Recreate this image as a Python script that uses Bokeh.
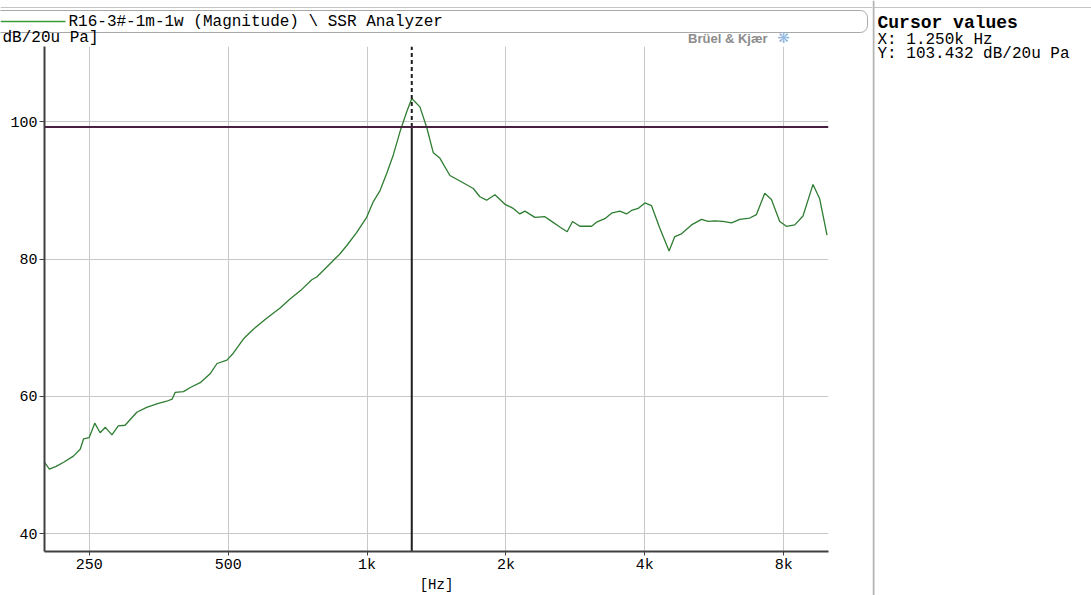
from bokeh.plotting import figure
from bokeh.models import Range1d, FixedTicker, Span, Label, ColumnDataSource
from bokeh.layouts import row, column
from bokeh.embed import file_html
from bokeh.resources import INLINE

# ---------------- data ----------------
freq_hz = [200, 205, 212, 220, 231, 239, 243, 250, 257, 264, 271, 280, 289, 299,
           317, 333, 353, 368, 378, 384, 400, 414, 435, 457, 473, 497, 513, 540,
           567, 606, 648, 681, 722, 759, 778, 811, 845, 874, 904, 950, 998, 1032,
           1067, 1103, 1140, 1179, 1219, 1250, 1302, 1347, 1392, 1439, 1512, 1590,
           1699, 1756, 1816, 1893, 1990, 2074, 2144, 2198, 2311, 2429, 2490, 2617,
           2714, 2788, 2892, 3066, 3143, 3276, 3387, 3530, 3650, 3742, 3868, 3999,
           4135, 4310, 4514, 4644, 4802, 5048, 5306, 5484, 5670, 5910, 6162, 6422,
           6751, 6980, 7275, 7522, 7840, 8106, 8449, 8806, 9256, 9570, 9926]
level_db = [50.4, 49.4, 49.8, 50.4, 51.3, 52.3, 53.8, 54.0, 56.1, 54.7, 55.5, 54.4,
            55.7, 55.8, 57.7, 58.4, 59.0, 59.3, 59.6, 60.6, 60.7, 61.3, 62.0, 63.3,
            64.8, 65.3, 66.3, 68.4, 69.8, 71.4, 72.9, 74.2, 75.6, 77.0, 77.4, 78.6,
            79.8, 80.8, 82.0, 83.9, 86.1, 88.4, 90.0, 92.5, 95.2, 98.6, 101.5, 103.43,
            102.2, 99.2, 95.5, 94.7, 92.2, 91.4, 90.3, 89.1, 88.6, 89.4, 88.0, 87.4,
            86.6, 87.0, 86.1, 86.2, 85.7, 84.7, 84.0, 85.5, 84.8, 84.8, 85.4, 85.9,
            86.7, 87.0, 86.6, 87.1, 87.4, 88.2, 87.8, 84.5, 81.2, 83.3, 83.7, 85.0,
            85.8, 85.5, 85.6, 85.5, 85.3, 85.8, 86.0, 86.5, 89.6, 88.7, 85.5, 84.8,
            85.0, 86.3, 90.9, 88.8, 83.5]
assert len(freq_hz) == len(level_db)

x_ticks = [250, 500, 1000, 2000, 4000, 8000]
x_tick_labels = ["250", "500", "1k", "2k", "4k", "8k"]
y_ticks = [40, 60, 80, 100]

series_name = "R16-3#-1m-1w (Magnitude) \\ SSR Analyzer"
y_unit_label = "dB/20u Pa]"
x_unit_label = "[Hz]"
cursor_freq = 1250.0
cursor_level = 103.432
ref_level = 99.27

x_lo, x_hi = 200, 10000
y_lo, y_hi = 37.4, 111.0

# ---------------- layout constants (page pixels) ----------------
PAGE_W, PAGE_H = 1091, 595
LEFT_W = 872               # header + chart column width
HEAD_H = 46                # header strip height
CHART_H = PAGE_H - HEAD_H
RIGHT_W = PAGE_W - LEFT_W
B_LEFT, B_RIGHT, B_BOTTOM = 44, 44, 44

MONO = "Liberation Mono"
CURVE = "#2e7d32"
AXIS = "#404040"
GRID = "#c8c8c8"
FRAME_LINE = "#c4c4c4"


def no_align(fig):
    try:
        fig.frame_align = False
    except Exception:
        pass


# ---------------- header strip ----------------
h = figure(width=LEFT_W, height=HEAD_H, x_range=Range1d(0, LEFT_W),
           y_range=Range1d(HEAD_H, 0), x_axis_type=None, y_axis_type=None,
           output_backend="svg", toolbar_location=None, min_border=0)
h.outline_line_color = None
h.grid.visible = False
no_align(h)
h.segment(x0=[0], y0=[7], x1=[LEFT_W], y1=[7], line_color=FRAME_LINE, line_width=1)
box = dict(left=[-12], right=[867], top=[10], bottom=[32],
           fill_color="white", line_color="#a8a8a8", line_width=1)
try:
    h.quad(border_radius=7, **box)
except Exception:
    h.quad(**box)
h.segment(x0=[0], y0=[21], x1=[65], y1=[21], line_color="#3a9a3a", line_width=1.5)
h.add_layout(Label(x=68, y=21, text=series_name, text_font=MONO,
                   text_font_size="16px", text_color="black",
                   text_baseline="middle"))
h.add_layout(Label(x=2, y=37, text=y_unit_label, text_font=MONO,
                   text_font_size="16px", text_color="black",
                   text_baseline="middle"))
h.add_layout(Label(x=767, y=37.5, text="Brüel & Kjær", text_font="Liberation Sans",
                   text_font_size="13px", text_font_style="bold",
                   text_color="#8c8c8c", text_baseline="middle", text_align="right"))
h.add_layout(Label(x=783, y=37.5, text="❋", text_font="DejaVu Sans",
                   text_font_size="15px", text_color="#8fb6e0",
                   text_baseline="middle", text_align="center"))

# ---------------- chart ----------------
p = figure(width=LEFT_W, height=CHART_H, x_axis_type="log",
           x_range=Range1d(x_lo, x_hi), y_range=Range1d(y_lo, y_hi),
           output_backend="svg", toolbar_location=None,
           min_border_left=B_LEFT, min_border_right=B_RIGHT,
           min_border_top=0, min_border_bottom=B_BOTTOM)
p.outline_line_color = None
p.background_fill_color = "white"
p.border_fill_color = "white"
no_align(p)

src = ColumnDataSource(dict(f=freq_hz, db=level_db))
p.line("f", "db", source=src, line_color=CURVE, line_width=1.3)

p.add_layout(Span(location=ref_level, dimension="width",
                  line_color="#4a2040", line_width=2))
p.segment(x0=[cursor_freq], y0=[y_lo], x1=[cursor_freq], y1=[ref_level],
          line_color="#1e1e1e", line_width=2)
p.segment(x0=[cursor_freq], y0=[ref_level], x1=[cursor_freq], y1=[y_hi],
          line_color="#1e1e1e", line_width=2, line_dash="4 3")

p.xaxis.ticker = FixedTicker(ticks=x_ticks)
p.xaxis.major_label_overrides = {t: l for t, l in zip(x_ticks, x_tick_labels)}
p.yaxis.ticker = FixedTicker(ticks=y_ticks)
p.xgrid.ticker = FixedTicker(ticks=x_ticks)
p.ygrid.ticker = FixedTicker(ticks=y_ticks)
for ax in (p.xaxis[0], p.yaxis[0]):
    ax.axis_line_color = AXIS
    ax.axis_line_width = 2
    ax.major_tick_line_color = AXIS
    ax.major_tick_line_width = 1
    ax.major_tick_in = 0
    ax.minor_tick_line_color = None
    ax.major_label_text_font = MONO
    ax.major_label_text_font_size = "15px"
    ax.major_label_text_color = "black"
p.yaxis.major_tick_out = 5
p.xaxis.major_tick_out = 4
p.xaxis.major_label_standoff = 1
p.yaxis.major_label_standoff = 2
p.xaxis.axis_label = x_unit_label
p.xaxis.axis_label_standoff = 0
p.xaxis.axis_label_text_font = MONO
p.xaxis.axis_label_text_font_size = "14px"
p.xaxis.axis_label_text_font_style = "normal"
p.xaxis.axis_label_text_color = "black"
p.grid.grid_line_color = GRID
p.grid.grid_line_width = 1

# ---------------- right panel: cursor values ----------------
q = figure(width=RIGHT_W, height=PAGE_H, x_range=Range1d(LEFT_W, PAGE_W),
           y_range=Range1d(PAGE_H, 0), x_axis_type=None, y_axis_type=None,
           output_backend="svg", toolbar_location=None, min_border=0)
q.outline_line_color = None
q.grid.visible = False
no_align(q)
q.segment(x0=[LEFT_W], y0=[7], x1=[PAGE_W], y1=[7], line_color=FRAME_LINE, line_width=1)
q.segment(x0=[873], y0=[0], x1=[873], y1=[PAGE_H], line_color="#b4b4b4", line_width=2)
cursor_lines = ["Cursor values",
                f"X: {cursor_freq/1000:.3f}k Hz",
                f"Y: {cursor_level:.3f} dB/20u Pa"]
for i, (txt, yy) in enumerate(zip(cursor_lines, [22, 39, 53])):
    q.add_layout(Label(x=877, y=yy, text=txt, text_font=MONO,
                       text_font_size="18px" if i == 0 else "16px",
                       text_font_style="bold" if i == 0 else "normal",
                       text_color="black", text_baseline="middle"))

layout = row(column(h, p, spacing=0), q, spacing=0)
open("out.html", "w").write(file_html(layout, INLINE))
